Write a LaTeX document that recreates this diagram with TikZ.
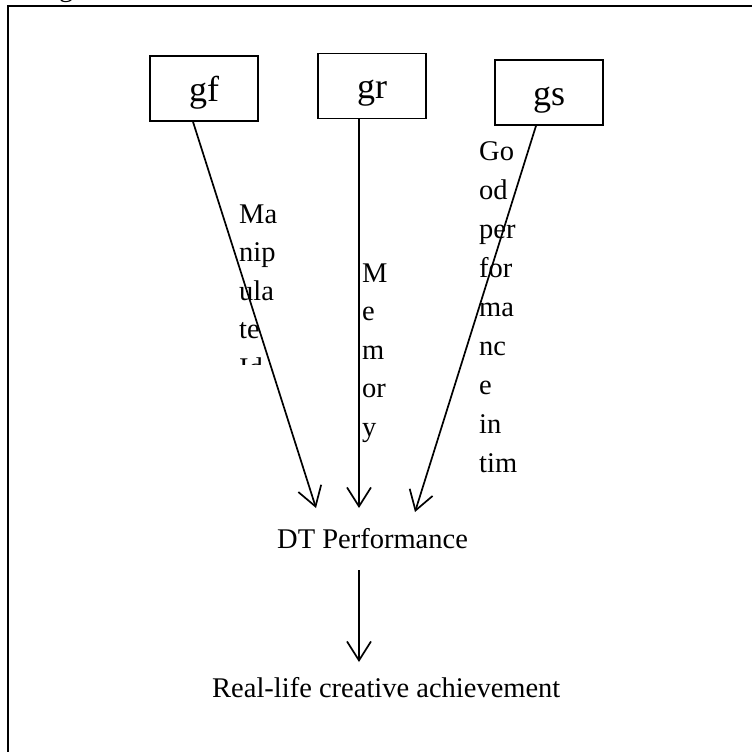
\documentclass[tikz,border=0pt]{standalone}
\usepackage{fontspec}
\setmainfont{Liberation Serif}
\usetikzlibrary{arrows.meta}
\begin{document}
\begin{tikzpicture}[x=1pt,y=-1pt,
  box/.style={draw,line width=1.6pt,minimum width=108pt,minimum height=65pt,inner sep=0pt,font=\fontsize{36}{42}\selectfont,text height=25pt,text depth=0pt},
  lbl/.style={anchor=base west,inner sep=0pt,font=\fontsize{28.5}{34}\selectfont},
  arr/.style={line width=1.7pt,-{Straight Barb[length=19pt,width=24pt]}}]
\useasboundingbox (0,0) rectangle (752,752);
\fill[white] (0,0) rectangle (752,752);
\draw[line width=2pt] (8,752) -- (8,6) -- (752,6);
\node[lbl] (fig) at (59,-3) {g};
% boxes
\node[box] (gf) at (204,88.5) {gf};
\node[box] (gr) at (372,86) {gr};
\node[box] (gs) at (549,92.5) {gs};
% labels
\begin{scope}
\clip (230,150) rectangle (300,364);
\foreach \t [count=\i] in {Ma,nip,ula,te,Id}
  \node[lbl] (man\i) at (239,{223+38.5*(\i-1)}) {\t};
\end{scope}
\foreach \t [count=\i] in {M,e,m,or,y}
  \node[lbl] (mem\i) at (362,{282+38.5*(\i-1)}) {\t};
\foreach \t [count=\i] in {Go,od,per,for,ma,nc,e,in,tim}
  \node[lbl] (gp\i) at (479,{160+39*(\i-1)}) {\t};
% lower texts
\node[lbl] (dt) at (277,548) {DT Performance};
\node[lbl] (rl) at (212,697) {Real-life creative achievement};
% arrows
\coordinate (t1) at (316,508);
\coordinate (t2) at (359,508);
\coordinate (t3) at (415,512);
\draw[arr] ([xshift=-11pt]gf.south) -- (t1);
\draw[arr] ([xshift=-13pt]gr.south) -- (t2);
\draw[arr] ([xshift=-13pt]gs.south) -- (t3);
\coordinate (b0) at (359,570);
\coordinate (b1) at (359,662);
\draw[arr] (b0) -- (b1);
\end{tikzpicture}
\end{document}
